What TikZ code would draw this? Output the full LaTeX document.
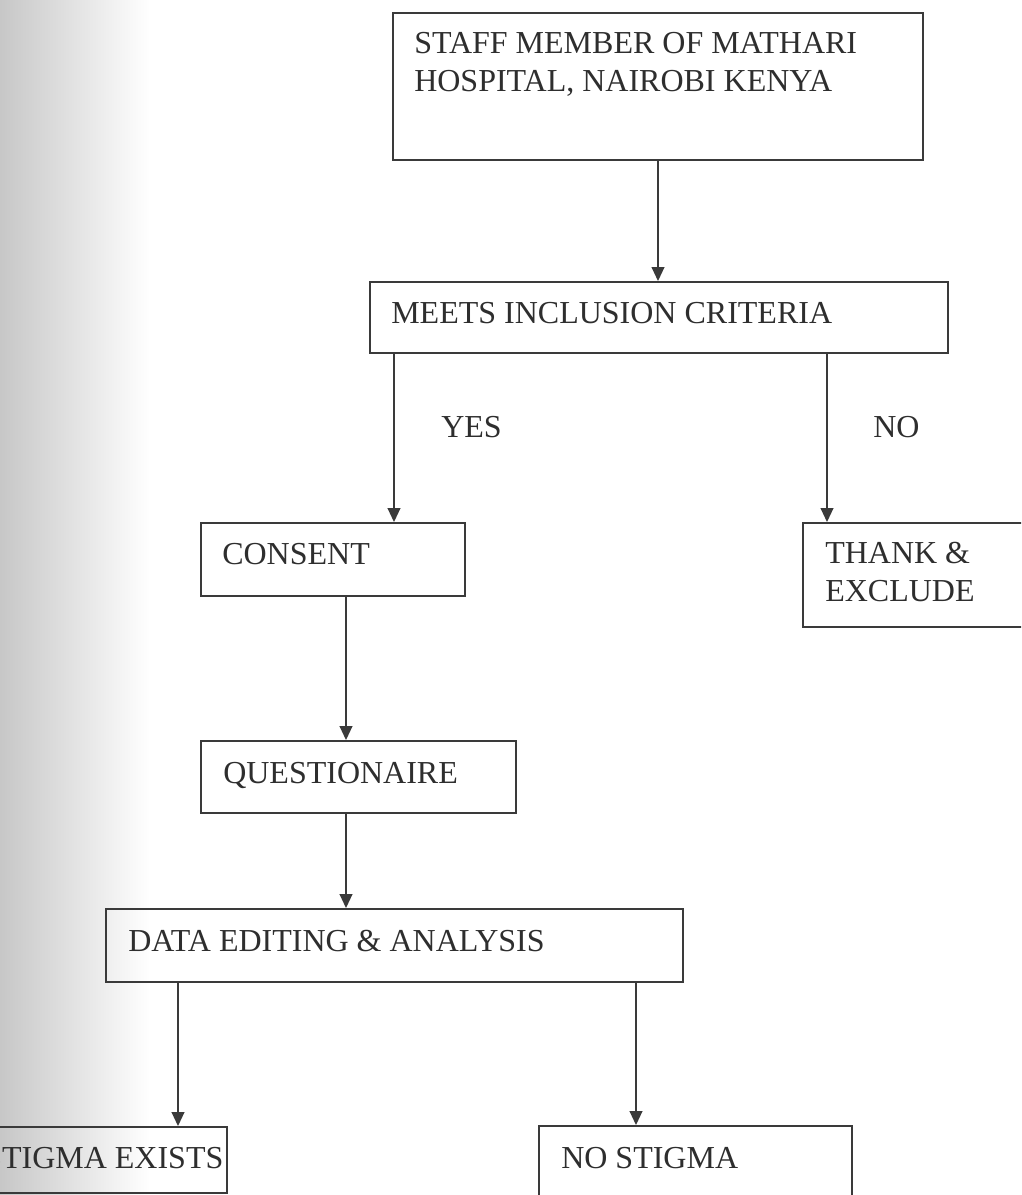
\documentclass[tikz,border=0pt]{standalone}
\usepackage{fontspec}
\setmainfont{Liberation Serif}
\usetikzlibrary{arrows.meta}
\definecolor{ink}{HTML}{3A3A3A}
\definecolor{txtc}{HTML}{2E2E2E}
\tikzset{
  flowbox/.style={draw=ink, line width=1.4pt, rectangle, inner sep=0pt},
  txt/.style={anchor=north west, inner sep=0pt, text=txtc, align=left,
              font=\fontsize{24}{28.5}\selectfont},
  arr/.style={draw=ink, line width=1.4pt, -{Triangle[width=9.5pt,length=10.5pt]}}
}
\begin{document}
\begin{tikzpicture}[x=0.75pt,y=-0.75pt]
\useasboundingbox (0,0) rectangle (1021,1195);
\begin{scope}
\clip (0,0) rectangle (1021,1195);
\fill[white] (0,0) rectangle (1021,1195);
\shade[left color=black!22, right color=white] (0,0) rectangle (150,1195);

% boxes (centre, width, height in px; 1px = 0.75pt)
\node[flowbox, minimum width=397.5pt, minimum height=110.25pt] (b1) at (658,86.5) {};
\node[flowbox, minimum width=433.5pt, minimum height=53.25pt] (b2) at (659,317.5) {};
\node[flowbox, minimum width=198pt, minimum height=54.75pt] (consent) at (333,559.5) {};
\node[flowbox, minimum width=177.75pt, minimum height=78pt] (thank) at (921.5,575) {};
\node[flowbox, minimum width=236.25pt, minimum height=54pt] (quest) at (358.5,777) {};
\node[flowbox, minimum width=432.75pt, minimum height=54.75pt] (data) at (394.5,945.5) {};
\node[flowbox, minimum width=200.25pt, minimum height=49.5pt] (stigma) at (93.5,1160) {};
\node[flowbox, minimum width=234.75pt, minimum height=66.75pt] (nostigma) at (695.5,1170.5) {};

% texts
\node[txt] (t1) at (414,32) {STAFF MEMBER OF MATHARI\\HOSPITAL, NAIROBI KENYA};
\node[txt] (t2) at (391,302) {MEETS INCLUSION CRITERIA};
\node[txt] (tyes) at (441,416) {YES};
\node[txt] (tno) at (873,416) {NO};
\node[txt] (tconsent) at (222,543) {CONSENT};
\node[txt] (tthank) at (825,542) {THANK \&\\EXCLUDE};
\node[txt] (tquest) at (223,762) {QUESTIONAIRE};
\node[txt] (tdata) at (128,930) {DATA EDITING \& ANALYSIS};
\node[txt] (tstigma) at (-16,1147) {STIGMA EXISTS};
\node[txt] (tnostigma) at (561,1147) {NO STIGMA};

% connectors
\draw[arr] (b1.south -| 658,0) -- (b2.north -| 658,0);
\draw[arr] (b2.south -| 394,0) -- (consent.north -| 394,0);
\draw[arr] (b2.south -| 827,0) -- (thank.north -| 827,0);
\draw[arr] (consent.south -| 346,0) -- (quest.north -| 346,0);
\draw[arr] (quest.south -| 346,0) -- (data.north -| 346,0);
\draw[arr] (data.south -| 178,0) -- (stigma.north -| 178,0);
\draw[arr] (data.south -| 636,0) -- (nostigma.north -| 636,0);
\end{scope}
\end{tikzpicture}
\end{document}
